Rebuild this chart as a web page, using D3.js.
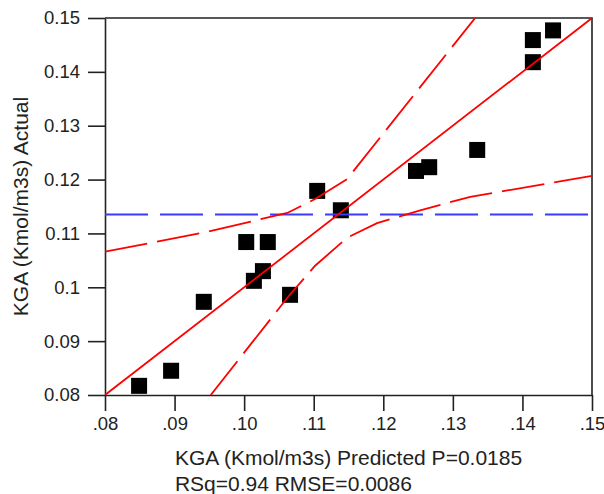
<!DOCTYPE html>
<html>
<head>
<meta charset="utf-8">
<script src="https://cdn.jsdelivr.net/npm/d3@7"></script>
<style>
  body { margin: 0; background: #fff; }
  text { font-family: "Liberation Sans", Arial, sans-serif; fill: #222; }
</style>
</head>
<body>
<div id="vis"></div>
<script>
// actual by predicted
const predicted = [.0849, .0895, .0942, .1003, .1034, .1027, .1014, .1066, .1105, .1139, .1247, .1266, .1335, .1415, .1415, .1444]
const actual    = [.0817, .0845, .0973, .1084, .1084, .1030, .1012, .0986, .1179, .1143, .1216, .1223, .1255, .1418, .1459, .1477]

// fit line (y = x) and the mean of actual
const fitX = [.08, .15]
const fitY = [.08, .15]
const meanActual = 0.1135

// confidence curves
const upperX = [.0800, .0947, .1062, .1102, .1148, .1332]
const upperY = [.1066, .1103, .1138, .1164, .1201, .1500]
const lowerX = [.0952, .1063, .1102, .1148, .1191, .1253, .1325, .1500]
const lowerY = [.0800, .0982, .1040, .1092, .1119, .1143, .1168, .1207]

const xTicks = [.08, .09, .10, .11, .12, .13, .14, .15]
const xTickLabels = [".08", ".09", ".10", ".11", ".12", ".13", ".14", ".15"]
const yTicks = [.08, .09, .10, .11, .12, .13, .14, .15]
const yTickLabels = ["0.08", "0.09", "0.1", "0.11", "0.12", "0.13", "0.14", "0.15"]

const xTitle = "KGA (Kmol/m3s) Predicted P=0.0185"
const statsLine = "RSq=0.94 RMSE=0.0086"
const yTitle = "KGA (Kmol/m3s) Actual"

const width = 604
const height = 494
const plotLeft = 105, plotRight = 592, plotTop = 18, plotBottom = 395

const svg = d3.select("#vis")
    .append("svg")
    .attr("width", width)
    .attr("height", height)

const xScale = d3.scaleLinear([.08, .15], [plotLeft, plotRight])
const yScale = d3.scaleLinear([.08, .15], [plotBottom, plotTop])

svg.append("clipPath")
    .attr("id", "plot-clip")
    .append("rect")
        .attr("x", plotLeft)
        .attr("y", plotTop)
        .attr("width", plotRight - plotLeft)
        .attr("height", plotBottom - plotTop)

// frame top and right
svg.append("path")
    .attr("d", `M${plotLeft},${plotTop}H${plotRight}V${plotBottom}`)
    .attr("fill", "none")
    .attr("stroke", "#222")
    .attr("stroke-width", 1.6)

const axisB = d3.axisBottom(xScale)
    .tickValues(xTicks)
    .tickFormat((d, i) => xTickLabels[i])
    .tickSize(16)
    .tickSizeOuter(0)
    .tickPadding(8)

const axisL = d3.axisLeft(yScale)
    .tickValues(yTicks)
    .tickFormat((d, i) => yTickLabels[i])
    .tickSize(17)
    .tickSizeOuter(0)
    .tickPadding(8)

const xAxis = svg.append("g")
    .attr("transform", `translate(0, ${plotBottom})`)
    .call(axisB)

const yAxis = svg.append("g")
    .attr("transform", `translate(${plotLeft}, 0)`)
    .call(axisL)

for (const ax of [xAxis, yAxis]) {
    ax.selectAll("path, line").attr("stroke", "#222").attr("stroke-width", 1.6)
    ax.selectAll("text")
        .attr("font-size", 18.5)
        .attr("font-family", "Liberation Sans, Arial, sans-serif")
        .attr("fill", "#222")
}
xAxis.selectAll("text").attr("dy", "0.6em")

const plot = svg.append("g").attr("clip-path", "url(#plot-clip)")

// points
plot.selectAll("rect.point")
    .data(d3.range(predicted.length))
    .join("rect")
        .attr("class", "point")
        .attr("x", i => xScale(predicted[i]) - 8)
        .attr("y", i => yScale(actual[i]) - 8)
        .attr("width", 16)
        .attr("height", 16)
        .attr("fill", "#000")

const line = d3.line()
    .x(d => xScale(d[0]))
    .y(d => yScale(d[1]))

// mean line
plot.append("path")
    .attr("d", line([[.08, meanActual], [.15, meanActual]]))
    .attr("fill", "none")
    .attr("stroke", "#3a3aff")
    .attr("stroke-width", 2)
    .attr("stroke-dasharray", "43,12")

// fit line
plot.append("path")
    .attr("d", line(d3.zip(fitX, fitY)))
    .attr("fill", "none")
    .attr("stroke", "#ff0000")
    .attr("stroke-width", 1.8)

// confidence curves
plot.selectAll("path.conf")
    .data([d3.zip(upperX, upperY), d3.zip(lowerX, lowerY)])
    .join("path")
        .attr("class", "conf")
        .attr("d", line)
        .attr("fill", "none")
        .attr("stroke", "#ff0000")
        .attr("stroke-width", 1.8)
        .attr("stroke-dasharray", "43,10")

// titles
const t1 = svg.append("text")
    .attr("x", (plotLeft + plotRight) / 2)
    .attr("y", 465)
    .attr("text-anchor", "middle")
    .attr("font-size", 21)
    .text(xTitle)

const startX = (plotLeft + plotRight) / 2 - t1.node().getComputedTextLength() / 2

svg.append("text")
    .attr("x", startX)
    .attr("y", 491)
    .attr("font-size", 21)
    .text(statsLine)

svg.append("text")
    .attr("transform", `translate(28, ${(plotTop + plotBottom) / 2}) rotate(-90)`)
    .attr("text-anchor", "middle")
    .attr("font-size", 21)
    .text(yTitle)
</script>
</body>
</html>
